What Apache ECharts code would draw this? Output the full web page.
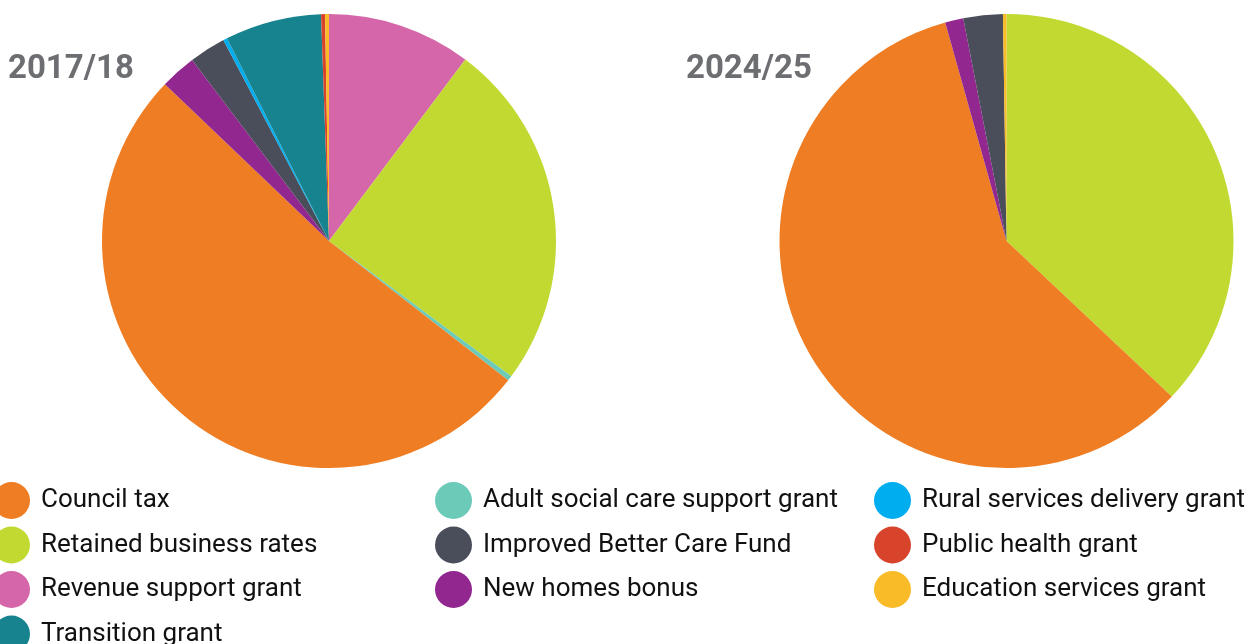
<!DOCTYPE html>
<html>
<head>
<meta charset="utf-8">
<script src="https://cdn.jsdelivr.net/npm/echarts@6/dist/echarts.min.js"></script>
<style>html,body{margin:0;padding:0;background:#fff}#c{width:1249px;height:644px}</style>
</head>
<body>
<div id="c"></div>
<script>
// Categories in legend order
const categories = [
  'Council tax', 'Retained business rates', 'Revenue support grant', 'Transition grant',
  'Adult social care support grant', 'Improved Better Care Fund', 'New homes bonus',
  'Rural services delivery grant', 'Public health grant', 'Education services grant'
];
const colors = {
  'Council tax': '#ef7d23',
  'Retained business rates': '#c1d931',
  'Revenue support grant': '#d566a9',
  'Transition grant': '#16838f',
  'Adult social care support grant': '#6ccab9',
  'Improved Better Care Fund': '#4a4d5a',
  'New homes bonus': '#92278f',
  'Rural services delivery grant': '#00aeef',
  'Public health grant': '#d7432b',
  'Education services grant': '#f9bb28'
};
// Slice order clockwise from top, shares in percent
const names2017 = ['Revenue support grant', 'Retained business rates', 'Adult social care support grant',
  'Council tax', 'New homes bonus', 'Improved Better Care Fund', 'Rural services delivery grant',
  'Transition grant', 'Public health grant', 'Education services grant'];
const values2017 = [10.25, 24.9, 0.36, 51.6, 2.56, 2.6, 0.28, 6.86, 0.28, 0.28];
const names2024 = ['Retained business rates', 'Council tax', 'New homes bonus',
  'Improved Better Care Fund', 'Education services grant'];
const values2024 = [37.0, 58.6, 1.3, 2.8, 0.25];
const titles = ['2017/18', '2024/25'];

const mk = (names, vals) => names.map((n, i) => ({ name: n, value: vals[i], itemStyle: { color: colors[n] } }));

const legendCols = [categories.slice(0, 4), categories.slice(4, 7), categories.slice(7, 10)];
const legendLeft = [-7, 435, 874];

const chart = echarts.init(document.getElementById('c'));
chart.setOption({
  animation: false,
  title: [
    { text: titles[0], left: 3, top: 48, textStyle: { fontFamily: 'Roboto', fontWeight: 'bold', fontSize: 33, color: '#6d6e71' } },
    { text: titles[1], left: 681, top: 48, textStyle: { fontFamily: 'Roboto', fontWeight: 'bold', fontSize: 33, color: '#6d6e71' } }
  ],
  legend: legendCols.map((col, i) => ({
    data: col,
    orient: 'vertical',
    left: legendLeft[i],
    top: 482,
    height: 220,
    padding: 0,
    icon: 'circle',
    itemWidth: 37,
    itemHeight: 37,
    itemGap: 7.5,
    selectedMode: false,
    textStyle: { fontFamily: 'Roboto', fontSize: 26, color: '#111111', padding: [2, 0, 0, 6] }
  })),
  series: [
    {
      type: 'pie', center: [329, 241], radius: 227, startAngle: 90, clockwise: true,
      label: { show: false }, labelLine: { show: false }, silent: true,
      itemStyle: { borderWidth: 0 },
      data: mk(names2017, values2017)
    },
    {
      type: 'pie', center: [1006.5, 241], radius: 227, startAngle: 90, clockwise: true,
      label: { show: false }, labelLine: { show: false }, silent: true,
      itemStyle: { borderWidth: 0 },
      data: mk(names2024, values2024)
    }
  ]
});
</script>
</body>
</html>
